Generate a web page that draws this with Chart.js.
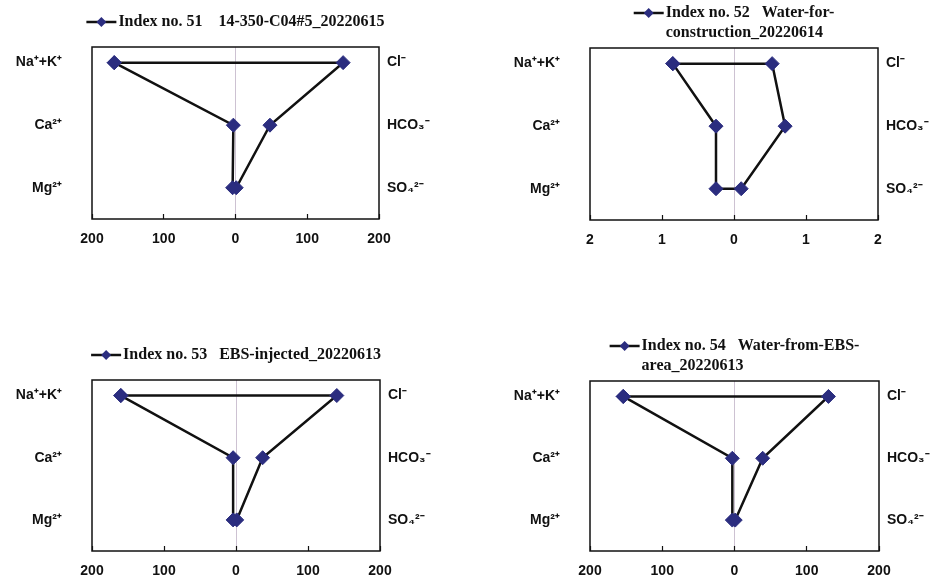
<!DOCTYPE html>
<html>
<head>
<meta charset="utf-8">
<script src="https://cdn.jsdelivr.net/npm/chart.js@4.4.0/dist/chart.umd.min.js"></script>
<style>
  html, body { margin: 0; padding: 0; background: #fff; }
  body { width: 931px; height: 583px; position: relative; overflow: hidden; }
  canvas { position: absolute; }
</style>
</head>
<body>
<canvas id="c51" width="465" height="262" style="left:0;top:0"></canvas>
<canvas id="c52" width="466" height="262" style="left:465px;top:0"></canvas>
<canvas id="c53" width="465" height="253" style="left:0;top:330px"></canvas>
<canvas id="c54" width="466" height="253" style="left:465px;top:330px"></canvas>
<script>
// ===== Stiff diagrams (meq/L) =====
const cationLabels = ['Na⁺+K⁺', 'Ca²⁺', 'Mg²⁺']
const anionLabels = ['Cl⁻', 'HCO₃⁻', 'SO₄²⁻']
const rowLevels = [3, 2, 1]

const ticksWide = [-200, -100, 0, 100, 200]
const ticksNarrow = [-2, -1, 0, 1, 2]

const legend51 = ['Index no. 51    14-350-C04#5_20220615']
const legend52 = ['Index no. 52   Water-for-', 'construction_20220614']
const legend53 = ['Index no. 53   EBS-injected_20220613']
const legend54 = ['Index no. 54   Water-from-EBS-', 'area_20220613']

// Na+K, Ca, Mg  /  Cl, HCO3, SO4
const cations51 = [169, 3, 4]
const anions51 = [150, 48, 1]
const cations52 = [0.85, 0.25, 0.25]
const anions52 = [0.53, 0.71, 0.10]
const cations53 = [160, 4, 4]
const anions53 = [140, 37, 1]
const cations54 = [154, 3, 3]
const anions54 = [130, 39, 1]

const MARKER = '#2b2d7f'
const LABEL_FONT = { family: "'Liberation Sans', Arial, sans-serif", size: 14, weight: 'bold' }

// 外枠
const framePlugin = {
  id: 'frame',
  beforeDatasetsDraw(chart) {
    const a = chart.chartArea
    const ctx = chart.ctx
    ctx.save()
    ctx.strokeStyle = '#111'
    ctx.lineWidth = 1.5
    ctx.strokeRect(a.left, a.top, a.right - a.left, a.bottom - a.top)
    ctx.restore()
  }
}

// 凡例（線＋菱形マーカー、折り返しテキスト）
const stiffLegend = {
  id: 'stiffLegend',
  afterDraw(chart, args, opts) {
    const lines = opts.lines || []
    const ctx = chart.ctx
    const a = chart.chartArea
    ctx.save()
    ctx.font = "bold 16px 'Liberation Serif', 'Times New Roman', serif"
    const textW = Math.max(...lines.map(l => ctx.measureText(l).width))
    const markW = 30, gap = 2, lh = 20
    const total = markW + gap + textW
    const x0 = (a.left + a.right) / 2 - total / 2
    const cy = a.top - 25
    const y0 = cy - (lines.length - 1) * lh / 2
    // marker
    ctx.strokeStyle = '#111'
    ctx.lineWidth = 2.5
    ctx.beginPath()
    ctx.moveTo(x0, y0)
    ctx.lineTo(x0 + markW, y0)
    ctx.stroke()
    ctx.fillStyle = MARKER
    ctx.beginPath()
    const mx = x0 + markW / 2, r = 5
    ctx.moveTo(mx, y0 - r); ctx.lineTo(mx + r, y0); ctx.lineTo(mx, y0 + r); ctx.lineTo(mx - r, y0)
    ctx.closePath()
    ctx.fill()
    // text
    ctx.fillStyle = '#111'
    ctx.textAlign = 'left'
    ctx.textBaseline = 'middle'
    lines.forEach((l, i) => ctx.fillText(l, x0 + markW + gap, y0 + i * lh))
    ctx.restore()
  }
}

function stiffPoints(cat, an) {
  return [
    { x: -cat[0], y: rowLevels[0] },
    { x: an[0], y: rowLevels[0] },
    { x: an[1], y: rowLevels[1] },
    { x: an[2], y: rowLevels[2] },
    { x: -cat[2], y: rowLevels[2] },
    { x: -cat[1], y: rowLevels[1] },
    { x: -cat[0], y: rowLevels[0] },
  ]
}

function makeStiff(id, cat, an, xTicks, legendLines, box) {
  const canvas = document.getElementById(id)
  const W = canvas.width, H = canvas.height
  const xH = 30
  const yAxis = (labels, pos, width, pad) => ({
    type: 'linear',
    position: pos,
    min: 0.5,
    max: 3.25,
    afterBuildTicks: s => { s.ticks = rowLevels.map(v => ({ value: v })) },
    afterFit: s => { s.width = width; s.paddingTop = 0; s.paddingBottom = 0 },
    grid: { display: false, drawTicks: false },
    border: { display: false },
    ticks: {
      padding: pad,
      color: '#111',
      font: LABEL_FONT,
      callback: v => labels[rowLevels.indexOf(v)] || '',
    },
  })

  return new Chart(canvas, {
    type: 'scatter',
    data: {
      datasets: [{
        data: stiffPoints(cat, an),
        showLine: true,
        borderColor: '#111',
        borderWidth: 2.5,
        pointStyle: 'rectRot',
        pointRadius: 7,
        pointHoverRadius: 7,
        pointBackgroundColor: MARKER,
        pointBorderColor: MARKER,
        pointBorderWidth: 1,
      }]
    },
    options: {
      responsive: false,
      animation: false,
      events: [],
      layout: { padding: { top: box.top, left: 0, right: 0, bottom: H - box.bottom - xH } },
      plugins: {
        legend: { display: false },
        tooltip: { enabled: false },
        stiffLegend: { lines: legendLines },
      },
      scales: {
        x: {
          type: 'linear',
          min: xTicks[0],
          max: xTicks[xTicks.length - 1],
          afterBuildTicks: s => { s.ticks = xTicks.map(v => ({ value: v })) },
          afterFit: s => { s.height = xH; s.paddingLeft = 0; s.paddingRight = 0 },
          border: { display: false },
          grid: {
            drawOnChartArea: true,
            color: c => (c.tick && c.tick.value === 0 ? '#cdc2d2' : 'rgba(0,0,0,0)'),
            lineWidth: 1,
            tickLength: -5,
            tickColor: '#111',
            tickWidth: 1.2,
          },
          ticks: {
            padding: 17,
            color: '#111',
            font: LABEL_FONT,
            maxRotation: 0,
            callback: v => String(Math.abs(v)),
          },
        },
        y: yAxis(cationLabels, 'left', box.left, 30),
        y2: yAxis(anionLabels, 'right', W - box.right, 8),
      },
    },
    plugins: [framePlugin, stiffLegend],
  })
}

makeStiff('c51', cations51, anions51, ticksWide, legend51, { left: 92, top: 47, right: 379, bottom: 219 })
makeStiff('c52', cations52, anions52, ticksNarrow, legend52, { left: 125, top: 48, right: 413, bottom: 220 })
makeStiff('c53', cations53, anions53, ticksWide, legend53, { left: 92, top: 50, right: 380, bottom: 221 })
makeStiff('c54', cations54, anions54, ticksWide, legend54, { left: 125, top: 51, right: 414, bottom: 221 })
</script>
</body>
</html>
